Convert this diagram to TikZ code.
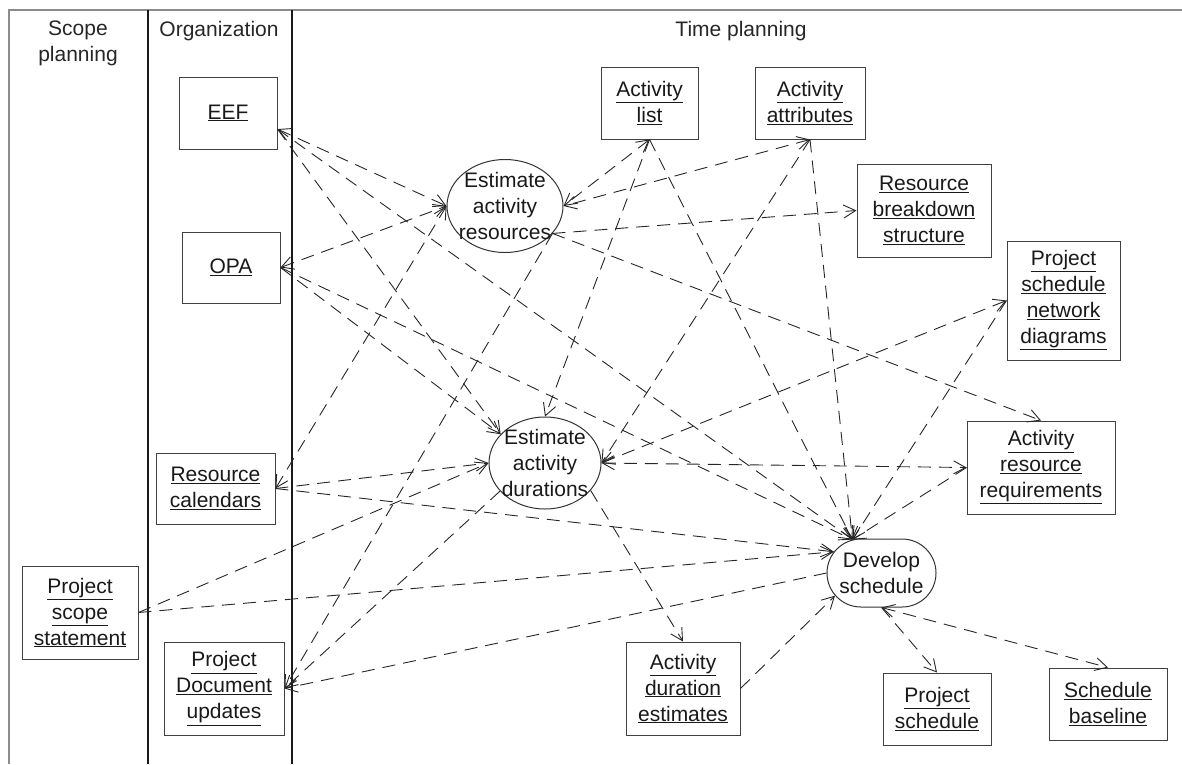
\documentclass[tikz,border=0pt]{standalone}
\usepackage{fontspec}
\setmainfont{Liberation Sans}
\usetikzlibrary{arrows.meta,shapes.geometric,shapes.misc}
\newcommand\diafont{\fontsize{21}{26}\selectfont}
\newcommand\ul[1]{\underline{#1}}
\tikzset{
  art/.style={draw=black!75, line width=1pt, inner sep=0pt, align=center, font=\diafont, text=black!90},
  proc/.style={draw=black!80, line width=1pt, inner sep=0pt},
  ptext/.style={align=center, font=\diafont, text=black!90, inner sep=0pt},
  hdr/.style={align=center, font=\diafont, text=black!85, inner sep=0pt},
  frame/.style={draw=black!45, line width=1.2pt},
  lane/.style={draw=black!90, line width=1.1pt},
  tip/.tip={Straight Barb[length=12pt,width=13pt]},
  flow/.style={draw=black!85, line width=0.9pt, dash pattern=on 13pt off 8pt, -tip},
  biflow/.style={draw=black!85, line width=0.9pt, dash pattern=on 13pt off 8pt, tip-tip},
}
\begin{document}
\begin{tikzpicture}[x=1pt,y=-1pt]
\useasboundingbox (0,0) rectangle (1182,764);
% frame and lanes
\draw[frame] (9,764) -- (9,10) -- (1182,10);
\draw[lane] (148,10) -- (148,764);
\draw[lane] (292,10) -- (292,764);
\node[hdr] (hscope) at (78,43) {Scope\\planning};
\node[hdr] (horg) at (219,31) {Organization};
\node[hdr] (htime) at (741,31) {Time planning};

% artefacts
\node[art, minimum width=98pt, minimum height=72pt] (eef) at (228,113) {\ul{EEF}};
\node[art, minimum width=98pt, minimum height=71pt] (opa) at (231,267.5) {\ul{OPA}};
\node[art, minimum width=119pt, minimum height=71pt] (rc) at (215.5,488.5) {\ul{Resource}\\\ul{calendars}};
\node[art, minimum width=116pt, minimum height=93pt] (pss) at (80,612.5) {\ul{Project}\\\ul{scope}\\\ul{statement}};
\node[art, minimum width=120pt, minimum height=93pt] (pdu) at (224,688.5) {\ul{Project}\\\ul{Document}\\\ul{updates}};
\node[art, minimum width=97pt, minimum height=72pt] (al) at (649.5,103) {\ul{Activity}\\\ul{list}};
\node[art, minimum width=110pt, minimum height=72pt] (aa) at (810,103) {\ul{Activity}\\\ul{attributes}};
\node[art, minimum width=134pt, minimum height=93pt] (rbs) at (924,210.5) {\ul{Resource}\\\ul{breakdown}\\\ul{structure}};
\node[art, minimum width=113pt, minimum height=119pt] (psnd) at (1063.5,300.5) {\ul{Project}\\\ul{schedule}\\\ul{network}\\\ul{diagrams}};
\node[art, minimum width=148pt, minimum height=93pt] (arr) at (1041,467.5) {\ul{Activity}\\\ul{resource}\\\ul{requirements}};
\node[art, minimum width=114pt, minimum height=93pt] (ade) at (683,688.5) {\ul{Activity}\\\ul{duration}\\\ul{estimates}};
\node[art, minimum width=108pt, minimum height=72pt] (ps) at (937,709) {\ul{Project}\\\ul{schedule}};
\node[art, minimum width=118pt, minimum height=72pt] (sb) at (1108,704) {\ul{Schedule}\\\ul{baseline}};

% processes
\node[proc, ellipse, minimum width=116pt, minimum height=93pt,
      label={[ptext]center:Estimate\\activity\\resources}] (ear) at (505,206) {};
\node[proc, ellipse, minimum width=112pt, minimum height=92pt,
      label={[ptext]center:Estimate\\activity\\durations}] (ead) at (545,463) {};
\node[proc, rounded rectangle, minimum width=109pt, minimum height=68pt,
      label={[ptext]center:Develop\\schedule}] (ds) at (881.5,573) {};

% connectors
\draw[biflow] (eef.-18) -- (ear.west);
\draw[flow] (eef.-18) -- (ead.147);
\draw[flow] (eef.-18) -- (ds.131);
\draw[biflow] (opa.east) -- (ear.west);
\draw[flow] (opa.east) -- (ead.147);
\draw[flow] (opa.east) -- (ds.131);
\draw[biflow] (rc.east) -- (ear.west);
\draw[flow] (rc.east) -- (ead.west);
\draw[flow] (rc.east) -- (ds.156);
\draw[flow] (pss.east) -- (ead.west);
\draw[flow] (pss.east) -- (ds.156);
\draw[flow] (ear.-30) -- (pdu.east);
\draw[flow] (ead.212) -- (pdu.east);
\draw[flow] (ds.west) -- (pdu.east);
\draw[biflow] (al.south) -- (ear.east);
\draw[flow] (al.south) -- (ead.north);
\draw[flow] (al.south) -- (ds.131);
\draw[biflow] (aa.south) -- (ear.east);
\draw[flow] (aa.south) -- (ead.east);
\draw[flow] (aa.south) -- (ds.131);
\draw[flow] (ear.-30) -- (rbs.west);
\draw[flow] (ear.-30) -- (arr.north);
\draw[biflow] (ead.east) -- (psnd.west);
\draw[flow] (psnd.west) -- (ds.131);
\draw[biflow] (ead.east) -- (arr.west);
\draw[flow] (arr.west) -- (ds.131);
\draw[flow] (ead.-31) -- (ade.north);
\draw[flow] (ade.east) -- (ds.206);
\draw[flow] (ds.south) -- (ps.north);
\draw[biflow] (ds.south) -- (sb.north);
\end{tikzpicture}
\end{document}
